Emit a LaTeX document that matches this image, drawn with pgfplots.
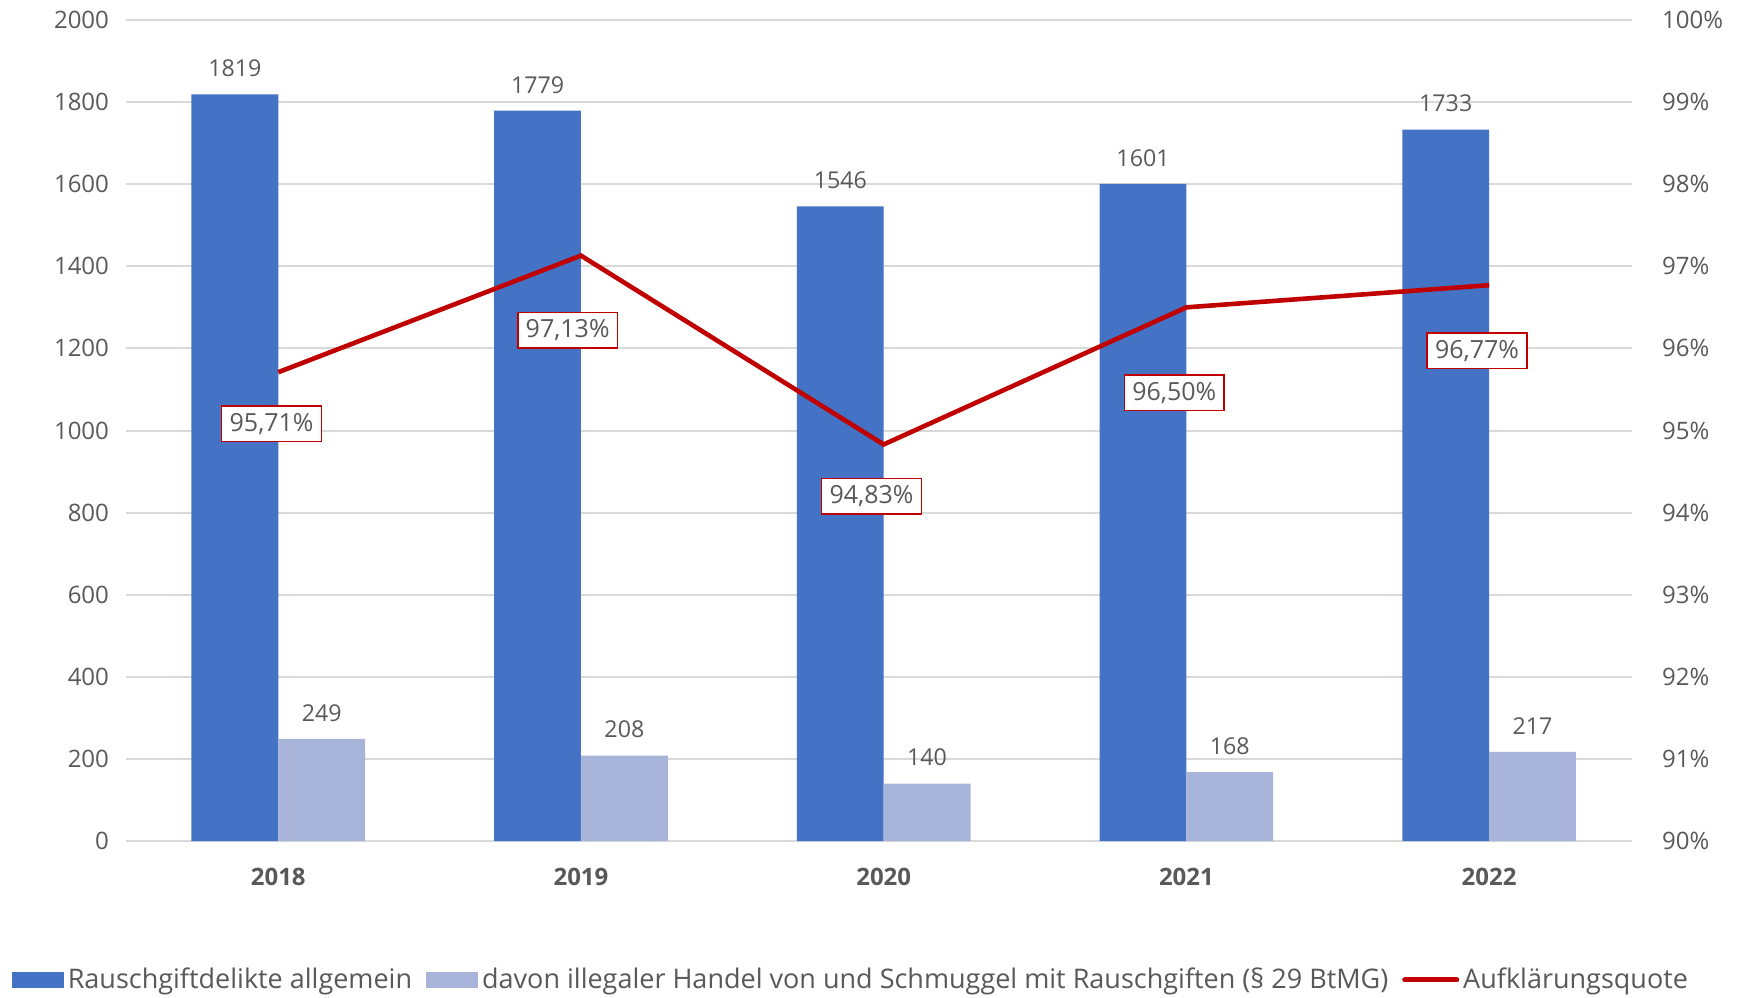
\documentclass[border=0pt]{standalone}
\usepackage{pgfplots}
\pgfplotsset{compat=1.18}
\usepackage{fontspec}
\setmainfont{Open Sans}
\definecolor{txt}{HTML}{595959}
\definecolor{barA}{HTML}{4472C4}
\definecolor{barB}{HTML}{A9B4DA}
\definecolor{lineR}{HTML}{C00000}
\definecolor{gridc}{HTML}{D9D9D9}
\begin{document}
\begin{tikzpicture}
\begin{axis}[
  scale only axis, width=753pt, height=410.5pt,
  xmin=-0.503, xmax=4.472, ymin=0, ymax=2000,
  ybar=0pt, bar width=43.4pt,
  ytick={0,200,...,2000},
  xtick={0,1,2,3,4}, xticklabels={2018,2019,2020,2021,2022},
  xticklabel style={font=\fontsize{12}{14}\selectfont\bfseries, text=txt, yshift=-5.5pt},
  yticklabel style={font=\fontsize{12}{14}\selectfont, text=txt, xshift=-5pt},
  /pgf/number format/assume math mode=true,
  /pgf/number format/1000 sep={},
  axis line style={draw=none}, major tick style={draw=none},
  ymajorgrids, grid style={gridc, line width=1pt},
  nodes near coords,
  nodes near coords style={font=\fontsize{11.6}{13}\selectfont, text=txt, anchor=center, yshift=13pt},
  legend columns=3,
  legend style={draw=none, at={(0.482,-0.1693)}, anchor=center,
    font=\fontsize{13.5}{16}\selectfont, text=txt,
    /tikz/every even column/.append style={column sep=5pt},
    nodes={inner xsep=2pt}},
]
\addplot[fill=barA, draw=none,
  legend image code/.code={\fill[barA] (0pt,-4pt) rectangle (26pt,4pt);}]
  coordinates {(0,1819) (1,1779) (2,1546) (3,1601) (4,1733)};
\addlegendentry{Rauschgiftdelikte allgemein}
\addplot[fill=barB, draw=none,
  legend image code/.code={\fill[barB] (0pt,-4pt) rectangle (26pt,4pt);}]
  coordinates {(0,249) (1,208) (2,140) (3,168) (4,217)};
\addlegendentry{davon illegaler Handel von und Schmuggel mit Rauschgiften (§ 29 BtMG)}
\addlegendimage{legend image code/.code={\draw[lineR, line width=2.5pt, line cap=round] (1pt,0pt) -- (27pt,0pt);}}
\addlegendentry{Aufklärungsquote}
\end{axis}
\begin{axis}[
  scale only axis, width=753pt, height=410.5pt,
  xmin=-0.503, xmax=4.472, ymin=90, ymax=100,
  axis x line=none, axis y line*=right,
  axis line style={draw=none}, major tick style={draw=none},
  ytick={90,...,100},
  yticklabels={90\%,91\%,92\%,93\%,94\%,95\%,96\%,97\%,98\%,99\%,100\%},
  yticklabel style={font=\fontsize{12}{14}\selectfont, text=txt, anchor=west, xshift=11.5pt},
]
\addplot[lineR, line width=2.3pt, mark=none]
  coordinates {(0,95.71) (1,97.13) (2,94.83) (3,96.50) (4,96.77)};
\begin{scope}[every node/.style={draw=lineR, line width=0.8pt, fill=white, text=txt,
    font=\fontsize{12.5}{15}\selectfont, inner xsep=4pt, inner ysep=3.5pt}]
\node at (axis cs:-0.022,95.08) {95,71\%};
\node at (axis cs:0.956,96.22) {97,13\%};
\node at (axis cs:1.96,94.20) {94,83\%};
\node at (axis cs:2.96,95.46) {96,50\%};
\node at (axis cs:3.96,95.97) {96,77\%};
\end{scope}
\end{axis}
\pgfresetboundingbox
\path[use as bounding box] (-63pt,-78pt) rectangle (809.5pt,420.5pt);
\end{tikzpicture}
\end{document}
